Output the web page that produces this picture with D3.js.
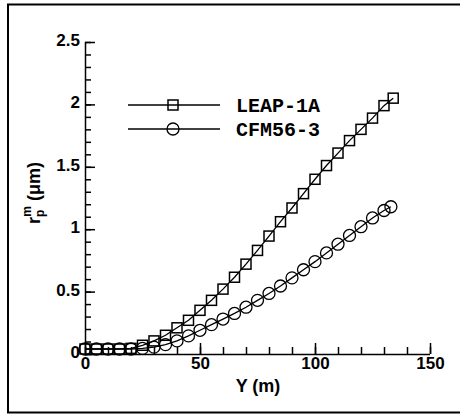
<!DOCTYPE html>
<html>
<head>
  <meta charset="UTF-8">
  <style>
    body { margin: 0; background: #fff; }
    .tick text { font-family: "Liberation Sans", Arial, sans-serif; font-weight: bold; font-size: 17px; fill: #000; }
    .lab { font-family: "Liberation Sans", Arial, sans-serif; font-weight: bold; font-size: 18px; }
    .leg { font-family: "Liberation Mono", "Courier New", monospace; font-weight: bold; font-size: 20px; }
  </style>
</head>
<body>
<svg width="460" height="414"></svg>

<script src="https://d3js.org/d3.v7.min.js"></script>
<script>
// values
const leapY = [0, 5, 10, 15, 20, 25, 30, 35, 40, 45, 50, 55, 60, 65, 70, 75, 80, 85, 90, 95, 100, 105, 110, 115, 120, 125, 130, 134];
const leapR = [0.04, 0.04, 0.04, 0.04, 0.045, 0.07, 0.105, 0.15, 0.21, 0.27, 0.35, 0.43, 0.52, 0.615, 0.72, 0.83, 0.945, 1.06, 1.17, 1.285, 1.40, 1.51, 1.61, 1.71, 1.80, 1.89, 1.99, 2.05];
const cfmY = [0, 5, 10, 15, 20, 25, 30, 35, 40, 45, 50, 55, 60, 65, 70, 75, 80, 85, 90, 95, 100, 105, 110, 115, 120, 125, 130, 133];
const cfmR = [0.04, 0.04, 0.04, 0.04, 0.04, 0.045, 0.055, 0.075, 0.105, 0.145, 0.19, 0.235, 0.28, 0.325, 0.375, 0.43, 0.485, 0.545, 0.61, 0.675, 0.74, 0.81, 0.88, 0.95, 1.02, 1.09, 1.15, 1.18];
const xTicks = [0, 50, 100, 150];
const yTicks = [0, 0.5, 1, 1.5, 2, 2.5];

const svg = d3.select("svg");

// outer frame
svg.append("rect")
  .attr("x", 8).attr("y", 4.5)
  .attr("width", 456).attr("height", 408)
  .attr("fill", "none").attr("stroke", "#000").attr("stroke-width", 2);

const x = d3.scaleLinear().domain([0, 150]).range([85, 430]);
const y = d3.scaleLinear().domain([0, 2.5]).range([354, 42]);

// minor ticks
svg.append("g")
  .attr("transform", "translate(0,354)")
  .call(d3.axisTop(x).tickValues(d3.range(0, 151, 10)).tickSize(7).tickFormat(""))
  .call(g => g.select(".domain").remove());
svg.append("g")
  .attr("transform", "translate(85,0)")
  .call(d3.axisRight(y).tickValues(d3.range(0, 26).map(d => d / 10)).tickSize(6).tickFormat(""))
  .call(g => g.select(".domain").remove());

// major ticks
const xa = svg.append("g")
  .attr("transform", "translate(0,354)")
  .call(d3.axisTop(x).tickValues(xTicks).tickSize(11).tickFormat(d3.format("d")));
xa.selectAll(".tick text").attr("y", 3).attr("dy", "0.71em");
xa.select(".domain").attr("d", "M85,0.5H430");

const ya = svg.append("g")
  .attr("transform", "translate(85,0)")
  .call(d3.axisRight(y).tickValues(yTicks).tickSize(10).tickFormat(d => d));
ya.selectAll(".tick text").attr("x", -5).attr("dy", "0.2em").attr("text-anchor", "end");
ya.select(".domain").attr("d", "M0.5,42V354");

svg.selectAll(".tick line, .domain").attr("stroke", "#000").attr("stroke-width", 1.5);

// axis titles
svg.append("text").attr("class", "lab")
  .attr("x", 258).attr("y", 392).attr("text-anchor", "middle")
  .text("Y (m)");

const yl = svg.append("text").attr("class", "lab")
  .attr("transform", "translate(40,193) rotate(-90)")
  .attr("text-anchor", "middle")
  .attr("font-size", 19);
yl.append("tspan").text("r");
yl.append("tspan").attr("font-size", 12).attr("dy", 4).text("p");
yl.append("tspan").attr("font-size", 12).attr("dx", -7).attr("dy", -13).text("m");
yl.append("tspan").attr("dy", 9).text(" (\u03bcm)");

// series
const line = d3.line().x(d => x(d[0])).y(d => y(d[1]));
const leap = leapY.map((v, i) => [v, leapR[i]]);
const cfm = cfmY.map((v, i) => [v, cfmR[i]]);

function drawSquare(g, cx, cy) {
  g.append("rect")
    .attr("x", cx - 5).attr("y", cy - 5).attr("width", 10).attr("height", 10)
    .attr("fill", "none").attr("stroke", "#000").attr("stroke-width", 1.5);
}
function drawCircle(g, cx, cy) {
  g.append("circle")
    .attr("cx", cx).attr("cy", cy).attr("r", 6)
    .attr("fill", "none").attr("stroke", "#000").attr("stroke-width", 1.3);
}

const plot = svg.append("g");
plot.append("path").datum(leap).attr("d", line)
  .attr("fill", "none").attr("stroke", "#000").attr("stroke-width", 1.3);
plot.append("path").datum(cfm).attr("d", line)
  .attr("fill", "none").attr("stroke", "#000").attr("stroke-width", 1.3);
leap.forEach(d => drawSquare(plot, x(d[0]), y(d[1])));
cfm.forEach(d => drawCircle(plot, x(d[0]), y(d[1])));

// legend
const leg = svg.append("g");
[["LEAP-1A", 105, drawSquare], ["CFM56-3", 129, drawCircle]].forEach(([name, ly, mark]) => {
  leg.append("line").attr("x1", 128).attr("x2", 220).attr("y1", ly).attr("y2", ly)
    .attr("stroke", "#000").attr("stroke-width", 1.3);
  mark(leg, 173, ly);
  leg.append("text").attr("class", "leg").attr("x", 236).attr("y", ly + 7).text(name);
});
</script>
</body>
</html>
